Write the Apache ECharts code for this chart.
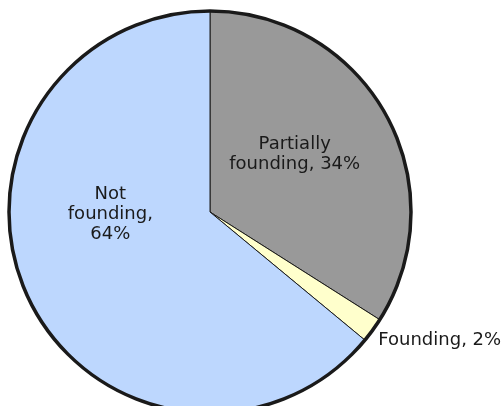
<!DOCTYPE html>
<html>
<head>
<meta charset="utf-8">
<script src="https://cdn.jsdelivr.net/npm/echarts@6/dist/echarts.min.js"></script>
<style>
  html, body { margin: 0; padding: 0; background: #ffffff; }
  #chart { width: 503px; height: 406px; }
</style>
</head>
<body>
<div id="chart"></div>
<script>
// Share of respondents by founding status
var categories = ['Partially\nfounding', 'Founding', 'Not\nfounding'];
var shares = [34, 2, 64];
var labelTexts = ['Partially\nfounding, 34%', 'Founding, 2%', 'Not\nfounding,\n64%'];

var sliceColors = ['#999999', '#ffffcc', '#bdd7fe'];
// nudges applied to each label after the library places it
var labelShift = [[-6, -8], [146, 67], [-6, -42]];

var chart = echarts.init(document.getElementById('chart'), null, { renderer: 'canvas' });

var pieData = categories.map(function (name, i) {
  return {
    name: name,
    value: shares[i],
    itemStyle: { color: sliceColors[i] },
    label: { formatter: labelTexts[i] }
  };
});

chart.setOption({
  animation: false,
  backgroundColor: '#ffffff',
  series: [
    {
      type: 'pie',
      center: [210, 212],
      radius: [0, 201],
      startAngle: 90,
      clockwise: true,
      avoidLabelOverlap: false,
      itemStyle: { borderColor: '#1a1a1a', borderWidth: 1 },
      label: {
        show: true,
        position: 'inside',
        color: '#1a1a1a',
        fontFamily: 'DejaVu Sans',
        fontSize: 18,
        lineHeight: 20,
        align: 'center'
      },
      labelLine: { show: false },
      labelLayout: function (p) {
        var s = labelShift[p.dataIndex];
        return { dx: s[0], dy: s[1] };
      },
      emphasis: { disabled: true },
      data: pieData
    },
    {
      // heavy outer rim
      type: 'pie',
      center: [210, 212],
      radius: [0, 201],
      silent: true,
      z: 5,
      label: { show: false },
      labelLine: { show: false },
      itemStyle: { color: 'rgba(0,0,0,0)', borderColor: '#1a1a1a', borderWidth: 3.5 },
      emphasis: { disabled: true },
      data: [{ value: 1, name: 'rim' }]
    }
  ]
});
</script>
</body>
</html>
